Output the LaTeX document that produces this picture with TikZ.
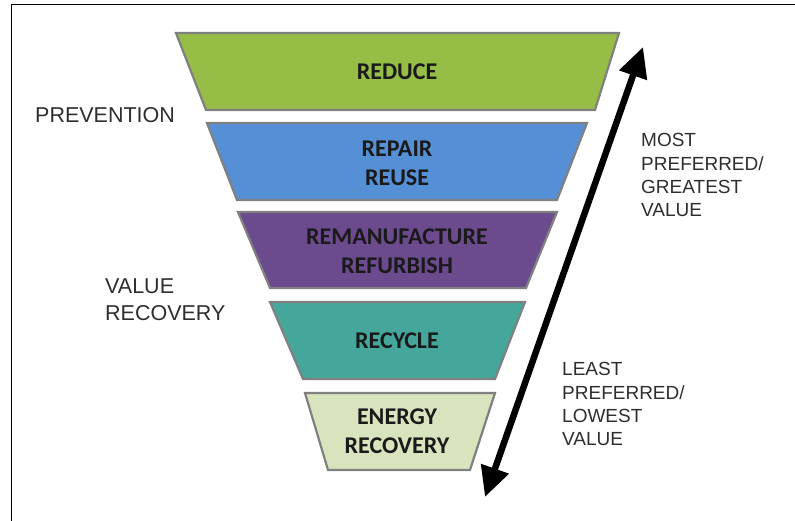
\documentclass[tikz,border=0pt]{standalone}
\usepackage{fontspec}
\setmainfont{Liberation Sans}
\newfontfamily\boxfont{Carlito}
\usetikzlibrary{arrows.meta}
\definecolor{cReduce}{HTML}{96BD46}
\definecolor{cRepair}{HTML}{5590D6}
\definecolor{cReman}{HTML}{6C4A8E}
\definecolor{cRecycle}{HTML}{45A79B}
\definecolor{cEnergy}{HTML}{D8E4BE}
\definecolor{cEdge}{HTML}{808080}
\definecolor{cLabel}{HTML}{2E2E2E}
\definecolor{cInner}{HTML}{1A1A1A}
\tikzset{
  tier/.style={draw=cEdge, line width=2.2pt, line join=miter},
  tiertext/.style={font=\boxfont\bfseries\fontsize{24}{29}\selectfont, text=cInner, align=center, inner sep=0pt},
  sidelabel/.style={font=\fontsize{21.5}{27}\selectfont, text=cLabel, align=left, inner sep=0pt, anchor=base west},
  rightlabel/.style={font=\fontsize{19}{23.2}\selectfont, text=cLabel, align=left, inner sep=0pt, anchor=base west},
  bigarrow/.style={line width=6.5pt, {Triangle[length=30pt,width=28pt]}-{Triangle[length=30pt,width=28pt]}}
}
\begin{document}
\begin{tikzpicture}[x=1pt,y=-1pt]
\useasboundingbox (0,0) rectangle (795,521);
% frame
\draw[line width=1.6pt] (11.5,521) -- (11.5,4.5) -- (795,4.5);
% tiers
\filldraw[tier, fill=cReduce] (176,33) -- (619,33) -- (595,110) -- (206,110) -- cycle;
\filldraw[tier, fill=cRepair] (207,123) -- (587,123) -- (557,200) -- (237,200) -- cycle;
\filldraw[tier, fill=cReman] (238,212) -- (557,212) -- (526,288) -- (270,288) -- cycle;
\filldraw[tier, fill=cRecycle] (270,302) -- (525,302) -- (495,379) -- (303,379) -- cycle;
\filldraw[tier, fill=cEnergy] (305,393) -- (495,393) -- (470,470) -- (328,470) -- cycle;
% tier texts
\node[tiertext] (reduce) at (397,72) {REDUCE};
\node[tiertext] (repair) at (397,163) {REPAIR\\REUSE};
\node[tiertext] (reman) at (397,251) {REMANUFACTURE\\REFURBISH};
\node[tiertext] (recycle) at (397,341) {RECYCLE};
\node[tiertext] (energy) at (397,431) {ENERGY\\RECOVERY};
% side labels (base anchor = baseline of last line)
\node[sidelabel] (prevention) at (35,123) {PREVENTION};
\node[sidelabel] (valuerec) at (105,320) {VALUE\\RECOVERY};
\node[rightlabel] (most) at (641,216.5) {MOST\\PREFERRED/\\GREATEST\\VALUE};
\node[rightlabel] (least) at (562,445.5) {LEAST\\PREFERRED/\\LOWEST\\VALUE};
% arrow
\coordinate (atop) at (643,47);
\coordinate (abot) at (485,497);
\draw[bigarrow] (abot) -- (atop);
\end{tikzpicture}
\end{document}
